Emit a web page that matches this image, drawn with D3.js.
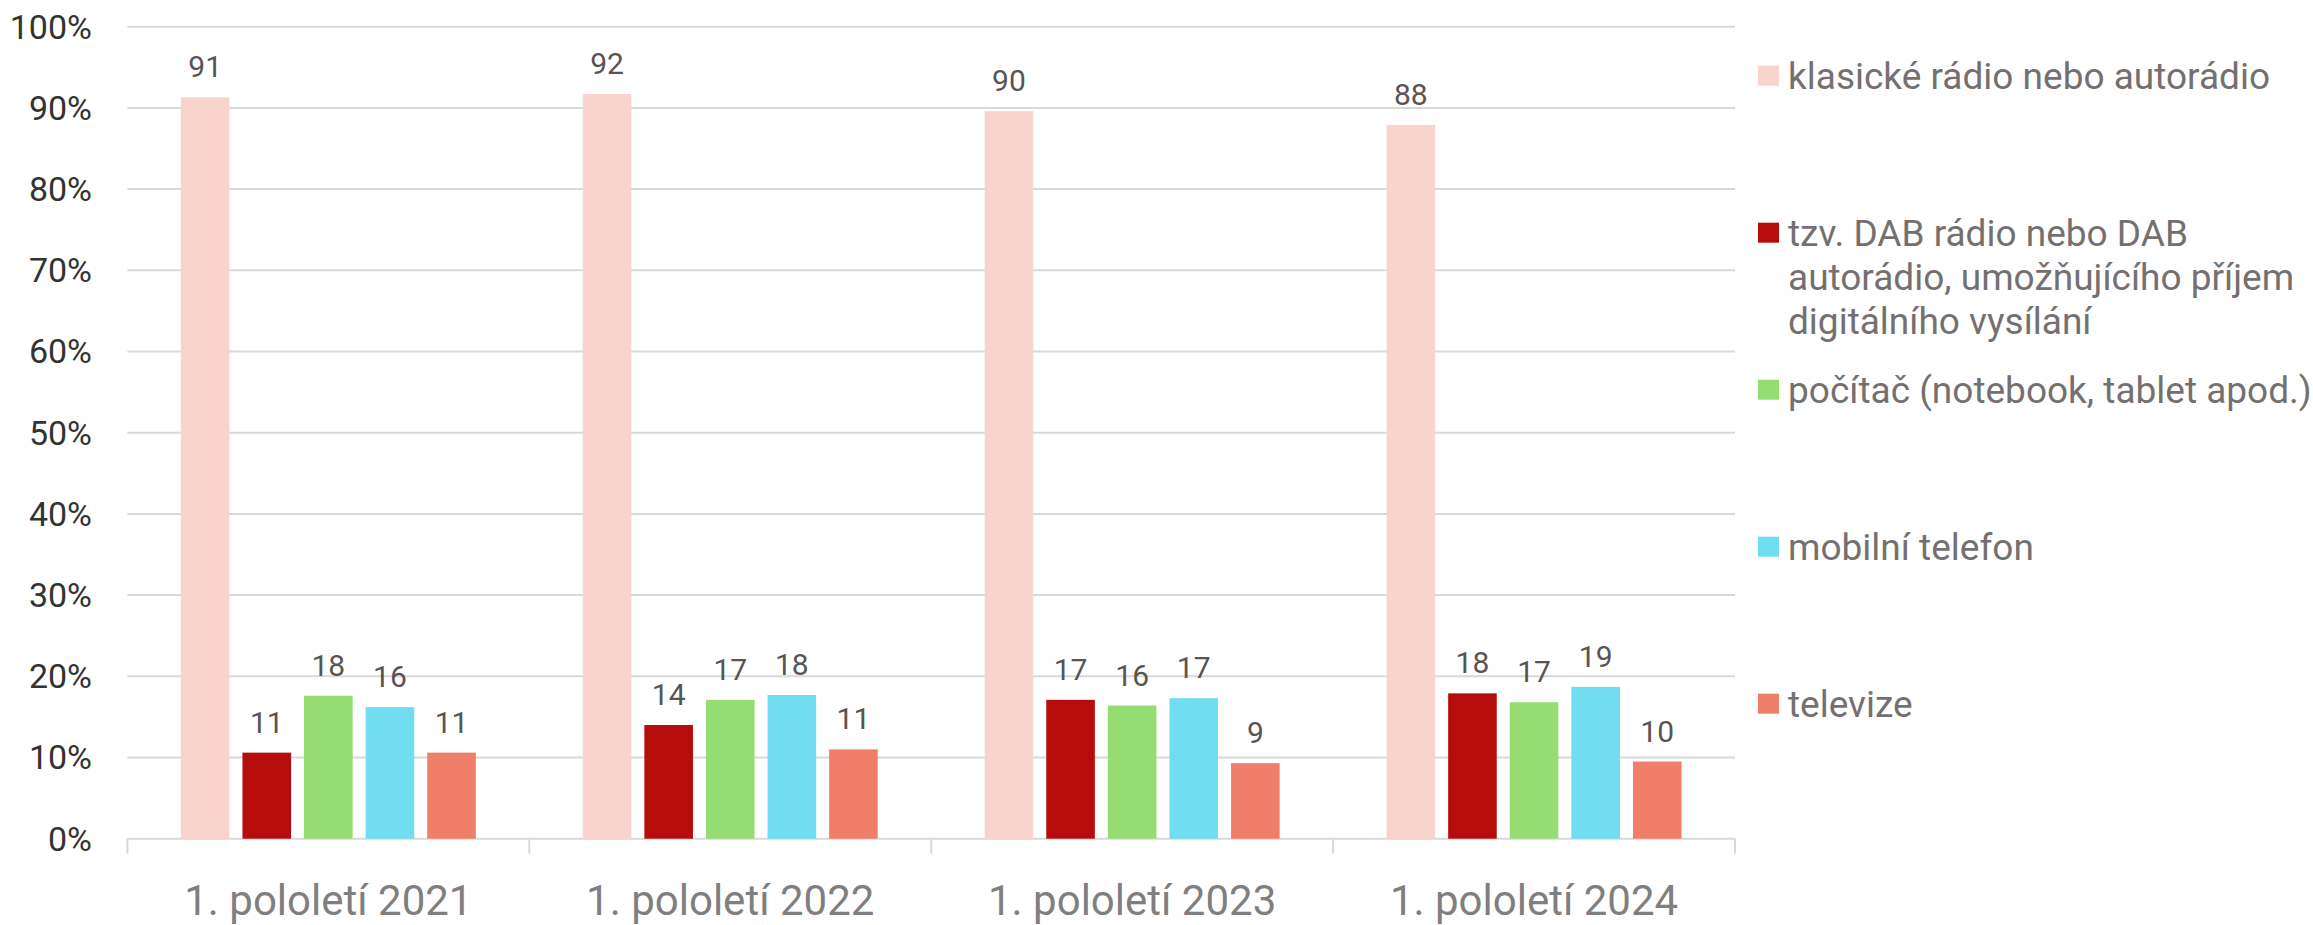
<!DOCTYPE html>
<html>
<head>
<meta charset="utf-8">
<script src="https://cdn.jsdelivr.net/npm/d3@7"></script>
<style>
  html, body { margin: 0; padding: 0; background: #fff; }
  svg text { font-family: Roboto, 'Noto Sans', sans-serif; }
</style>
</head>
<body>
<div id="chart"></div>
<script>
// Categories and series values (percent)
const categories = ['1. pololetí 2021', '1. pololetí 2022', '1. pololetí 2023', '1. pololetí 2024'];
const seriesKeys = ['klasicke', 'dab', 'pocitac', 'mobil', 'televize'];
const seriesLabels = [
    ['klasické rádio nebo autorádio'],
    ['tzv. DAB rádio nebo DAB', 'autorádio, umožňujícího příjem', 'digitálního vysílání'],
    ['počítač (notebook, tablet apod.)'],
    ['mobilní telefon'],
    ['televize']
];
const seriesColors = ['#f9d3cd', '#b70c0c', '#95dc72', '#70ddf0', '#f07f69'];
const klasicke = [91.3, 91.7, 89.6, 87.9];
const dab = [10.6, 14.0, 17.1, 17.9];
const pocitac = [17.6, 17.1, 16.4, 16.8];
const mobil = [16.2, 17.7, 17.3, 18.7];
const televize = [10.6, 11.0, 9.3, 9.5];
const yTicks = [0, 10, 20, 30, 40, 50, 60, 70, 80, 90, 100];

const values = { klasicke, dab, pocitac, mobil, televize };

const width = 2313, height = 925;
const plot = { left: 127.4, right: 1735, top: 26.7, bottom: 838.7 };

const svg = d3.select('#chart')
    .append('svg')
    .attr('width', width)
    .attr('height', height);

const x0 = d3.scaleBand().domain(categories).range([plot.left, plot.right]).padding(0);
const x1 = d3.scaleBand().domain(seriesKeys).range([0, x0.bandwidth()])
    .paddingInner(0.211).paddingOuter(0.868);
const y = d3.scaleLinear().domain([0, 100]).range([plot.bottom, plot.top]);

// Gridlines
svg.append('g')
    .selectAll('line')
    .data(yTicks)
    .enter()
    .append('line')
    .attr('x1', plot.left).attr('x2', plot.right)
    .attr('y1', d => y(d)).attr('y2', d => y(d))
    .attr('stroke', '#d9d9d9')
    .attr('stroke-width', 2);

// Y axis labels
svg.append('g')
    .selectAll('text')
    .data(yTicks)
    .enter()
    .append('text')
    .attr('x', 92)
    .attr('y', d => y(d))
    .attr('dy', '0.35em')
    .attr('text-anchor', 'end')
    .attr('fill', '#333333')
    .style('font-size', '34px')
    .text(d => d + '%');

// Category separators (tick marks)
const boundaries = categories.map(c => x0(c)).concat([plot.right]);
svg.append('g')
    .selectAll('line')
    .data(boundaries)
    .enter()
    .append('line')
    .attr('x1', d => d).attr('x2', d => d)
    .attr('y1', plot.bottom).attr('y2', plot.bottom + 15)
    .attr('stroke', '#d9d9d9')
    .attr('stroke-width', 2);

// Category labels
svg.append('g')
    .selectAll('text')
    .data(categories)
    .enter()
    .append('text')
    .attr('x', d => x0(d) + x0.bandwidth() / 2)
    .attr('y', 915)
    .attr('text-anchor', 'middle')
    .attr('fill', '#7f7f7f')
    .style('font-size', '42px')
    .text(d => d);

// Bars
const groups = svg.append('g')
    .selectAll('g')
    .data(categories)
    .enter()
    .append('g')
    .attr('transform', d => `translate(${x0(d)},0)`);

const barData = (c, i) => seriesKeys.map((k, j) => ({ key: k, value: values[k][i], color: seriesColors[j] }));

groups.selectAll('rect')
    .data(barData)
    .enter()
    .append('rect')
    .attr('x', d => x1(d.key))
    .attr('y', d => y(d.value))
    .attr('width', x1.bandwidth())
    .attr('height', d => y(0) - y(d.value))
    .attr('fill', d => d.color);

// Value labels
groups.selectAll('text')
    .data(barData)
    .enter()
    .append('text')
    .attr('x', d => x1(d.key) + x1.bandwidth() / 2)
    .attr('y', d => y(d.value) - 20)
    .attr('text-anchor', 'middle')
    .attr('fill', '#595454')
    .style('font-size', '30px')
    .text(d => Math.round(d.value));

// Legend
const legendTop = 75.7, legendStep = 157;
const legend = svg.append('g')
    .selectAll('g')
    .data(seriesKeys)
    .enter()
    .append('g')
    .attr('transform', (d, i) => `translate(1758,${legendTop + i * legendStep})`);

legend.append('rect')
    .attr('x', 0).attr('y', -10)
    .attr('width', 21).attr('height', 20)
    .attr('fill', (d, i) => seriesColors[i]);

legend.append('text')
    .attr('x', 30)
    .attr('y', 0)
    .attr('fill', '#757070')
    .style('font-size', '37px')
    .each(function (d, i) {
        const t = d3.select(this);
        seriesLabels[i].forEach((line, k) => {
            t.append('tspan')
                .attr('x', 30)
                .attr('y', k * 44)
                .attr('dy', '0.35em')
                .text(line);
        });
    });
</script>
</body>
</html>
